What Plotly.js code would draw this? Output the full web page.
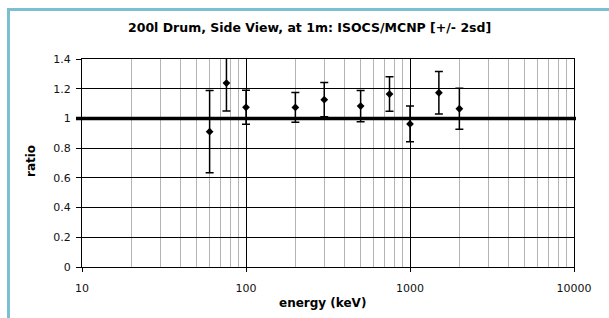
<!DOCTYPE html>
<html>
<head>
<meta charset="utf-8">
<script src="https://cdn.plot.ly/plotly-3.0.1.min.js"></script>
<style>
  html, body { margin: 0; padding: 0; background: #ffffff; overflow: hidden; }
  #chart { position: absolute; left: 0; top: 0; width: 609px; height: 318px; }
  #frame { position: absolute; left: 7px; top: 8px; width: 700px; height: 400px;
           border-left: 3px solid #7dbfd2; border-top: 3px solid #7dbfd2; pointer-events: none; }
</style>
</head>
<body>
<div id="chart"></div>
<div id="frame"></div>
<script>
// Data
const energyKeV = [60, 76, 100, 200, 300, 500, 750, 1000, 1500, 2000];
const ratioVals = [0.911, 1.238, 1.075, 1.074, 1.126, 1.083, 1.164, 0.963, 1.173, 1.065];
const err2sd    = [0.277, 0.188, 0.115, 0.100, 0.115, 0.105, 0.116, 0.120, 0.143, 0.138];

const xMajorTicks = [10, 100, 1000, 10000];
const xMajorLabels = ['10', '100', '1000', '10000'];
const xMinorTicks = [20, 30, 40, 50, 60, 70, 80, 90,
                     200, 300, 400, 500, 600, 700, 800, 900,
                     2000, 3000, 4000, 5000, 6000, 7000, 8000, 9000];
const yTicks = [0, 0.2, 0.4, 0.6, 0.8, 1, 1.2, 1.4];
const yLabels = ['0', '0.2', '0.4', '0.6', '0.8', '1', '1.2', '1.4'];
const refLevel = 1;

const titleText = '200l Drum, Side View, at 1m: ISOCS/MCNP [+/- 2sd]';
const xTitleText = 'energy (keV)';
const yTitleText = 'ratio';

// plot area geometry (pixels)
const L = 82, R = 35, T = 59, B = 51;
const W = 609 - L - R, H = 318 - T - B;
const xp = px => (px - L) / W;
const yp = py => (318 - B - py) / H;

const font = 'DejaVu Sans, Verdana, sans-serif';

const trace = {
  x: energyKeV,
  y: ratioVals,
  type: 'scatter',
  mode: 'markers',
  marker: { symbol: 'diamond', size: 6, color: '#000000' },
  error_y: { type: 'data', array: err2sd, visible: true, color: '#000000', thickness: 1.5, width: 4 },
  showlegend: false,
  cliponaxis: false
};

const layout = {
  width: 609, height: 318,
  margin: { l: L, r: R, t: T, b: B, pad: 0 },
  paper_bgcolor: 'rgba(0,0,0,0)',
  plot_bgcolor: '#ffffff',
  font: { family: font, size: 11, color: '#000000' },
  showlegend: false,
  xaxis: {
    type: 'log',
    range: [1, 4],
    tickmode: 'array',
    tickvals: xMajorTicks,
    ticktext: xMajorLabels,
    ticks: 'outside', ticklen: 4, tickcolor: '#000', tickwidth: 1,
    ticklabelstandoff: 7,
    showgrid: true, gridcolor: '#000000', gridwidth: 1,
    showline: true, linecolor: '#000000', linewidth: 1, mirror: true,
    zeroline: false,
    minor: { tickmode: 'array', tickvals: xMinorTicks, showgrid: true, gridcolor: '#b4b4b4', gridwidth: 1, ticks: '' },
    tickfont: { family: font, size: 11, color: '#111' },
    fixedrange: true
  },
  yaxis: {
    range: [0, 1.4],
    tickmode: 'array',
    tickvals: yTicks,
    ticktext: yLabels,
    ticks: 'outside', ticklen: 5, tickcolor: '#000', tickwidth: 1,
    ticklabelstandoff: 3,
    showgrid: true, gridcolor: '#000000', gridwidth: 1,
    showline: true, linecolor: '#000000', linewidth: 1, mirror: true,
    zeroline: false,
    tickfont: { family: font, size: 11, color: '#111' },
    fixedrange: true
  },
  shapes: [
    { type: 'line', xref: 'paper', yref: 'y', x0: xp(76), x1: xp(576), y0: refLevel, y1: refLevel,
      line: { color: '#000000', width: 3.5 }, layer: 'above' }
  ],
  annotations: [
    { text: '<b>' + titleText + '</b>', xref: 'paper', yref: 'paper', x: xp(309), y: yp(27),
      xanchor: 'center', yanchor: 'middle', showarrow: false, font: { family: font, size: 12.5, color: '#000' } },
    { text: '<b>' + xTitleText + '</b>', xref: 'paper', yref: 'paper', x: xp(322), y: yp(303),
      xanchor: 'center', yanchor: 'middle', showarrow: false, font: { family: font, size: 12, color: '#000' } },
    { text: '<b>' + yTitleText + '</b>', xref: 'paper', yref: 'paper', x: xp(31), y: yp(161),
      xanchor: 'center', yanchor: 'middle', textangle: -90, showarrow: false, font: { family: font, size: 12, color: '#000' } }
  ]
};

Plotly.newPlot('chart', [trace], layout, { staticPlot: true, displayModeBar: false });
</script>
</body>
</html>
